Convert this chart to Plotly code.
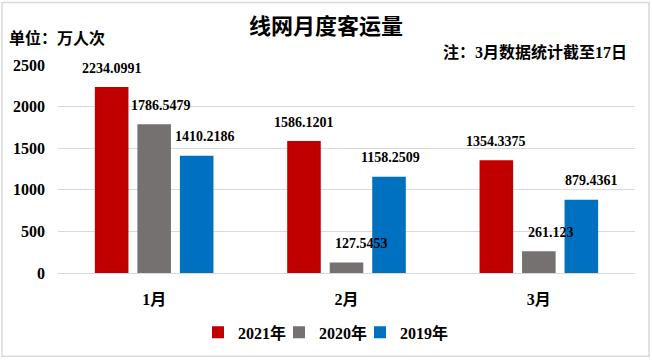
import plotly.graph_objects as go

categories = ["1月", "2月", "3月"]
series_names = ["2021年", "2020年", "2019年"]
values_2021 = [2234.0991, 1586.1201, 1354.3375]
values_2020 = [1786.5479, 127.5453, 261.123]
values_2019 = [1410.2186, 1158.2509, 879.4361]
label_2021 = ["2234.0991", "1586.1201", "1354.3375"]
label_2020 = ["1786.5479", "127.5453", "261.123"]
label_2019 = ["1410.2186", "1158.2509", "879.4361"]
y_ticks = [0, 500, 1000, 1500, 2000, 2500]

colors = ["#C00000", "#767171", "#0070C0"]
FONT = "Liberation Serif, Noto Sans CJK SC, serif"

W, H = 652, 362
ML, MR, MT, MB = 58, 17, 65, 87
PW = W - ML - MR
PH = H - MT - MB

fig = go.Figure()
all_vals = [values_2021, values_2020, values_2019]
all_labels = [label_2021, label_2020, label_2019]
for name, vals, col in zip(series_names, all_vals, colors):
    fig.add_trace(go.Bar(x=categories, y=vals, name=name, marker_color=col,
                         marker_line_width=0))
# empty spacer entry so the last legend label is not clipped
fig.add_trace(go.Scatter(x=[None], y=[None], mode="markers", name=" ",
                         marker=dict(color="rgba(0,0,0,0)", size=1, opacity=0,
                                     line=dict(width=0, color="rgba(0,0,0,0)")),
                         hoverinfo="skip"))

# data labels above bars
slot_px = PW / 3 * (1 - 0.337) / 3
nudges = [[0, 0, 0], [7, 15, 12], [8, 1, 10]]
for si, (vals, labs) in enumerate(zip(all_vals, all_labels)):
    for ci, (c, v, lab) in enumerate(zip(categories, vals, labs)):
        fig.add_annotation(x=c, y=v, xref="x", yref="y", text=lab, showarrow=False,
                           xshift=(si - 1) * slot_px + nudges[si][ci], yshift=19,
                           yanchor="middle",
                           font=dict(family=FONT, size=14, color="#000000", weight="bold"))

def px_x(px):
    return (px - ML) / PW

def px_y(py):
    return (MT + PH - py) / PH

fig.add_annotation(x=px_x(7), y=px_y(38), xref="paper", yref="paper", text="单位：万人次",
                   showarrow=False, xanchor="left", yanchor="middle",
                   font=dict(family=FONT, size=16, color="#000000", weight="bold"))
fig.add_annotation(x=px_x(629), y=px_y(52), xref="paper", yref="paper",
                   text="注：3月数据统计截至17日", showarrow=False, xanchor="right", yanchor="middle",
                   font=dict(family=FONT, size=16, color="#000000", weight="bold"))

fig.add_shape(type="rect", xref="paper", yref="paper",
              x0=px_x(2), x1=px_x(649), y0=px_y(359), y1=px_y(2),
              line=dict(color="#D9D9D9", width=1.5), fillcolor="rgba(0,0,0,0)", layer="below")

fig.update_layout(
    width=W, height=H,
    margin=dict(l=ML, r=MR, t=MT, b=MB),
    paper_bgcolor="#FFFFFF", plot_bgcolor="#FFFFFF",
    title=dict(text="线网月度客运量", x=0.5, xref="container", xanchor="center",
               y=1 - 26 / H, yref="container", yanchor="middle",
               font=dict(family=FONT, size=22, color="#000000", weight="bold")),
    barmode="group", bargap=0.337, bargroupgap=0.21,
    legend=dict(orientation="h", x=px_x(360), xanchor="center", y=px_y(335), yanchor="middle",
                font=dict(family=FONT, size=16, color="#000000", weight="bold"),
                itemwidth=30, entrywidth=36, tracegroupgap=0),
    showlegend=True,
)
fig.update_yaxes(range=[0, 2500], tickvals=y_ticks, showgrid=True, gridcolor="#D9D9D9",
                 gridwidth=1, zeroline=False, showline=False, ticks="",
                 ticklabelstandoff=12,
                 tickfont=dict(family=FONT, size=16, color="#000000", weight="bold"))
fig.update_xaxes(showline=True, linecolor="#D9D9D9", linewidth=1, ticks="",
                 ticklabelstandoff=12,
                 tickfont=dict(family=FONT, size=16, color="#000000", weight="bold"))

fig.write_html("out.html", config={"displayModeBar": False},
               post_script="document.body.style.margin='0';document.body.style.overflow='hidden';")
